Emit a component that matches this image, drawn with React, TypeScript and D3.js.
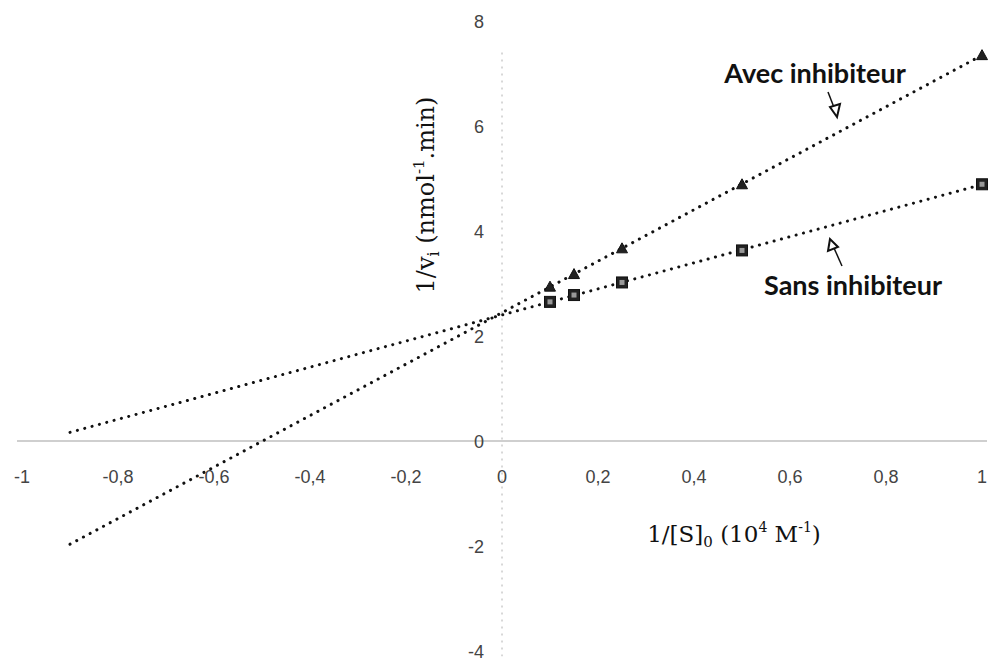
import React from "react";
import * as d3 from "d3";

const xValues = [0.1, 0.15, 0.25, 0.5, 1];
const sansValues = [2.65, 2.78, 3.02, 3.63, 4.89];
const avecValues = [2.94, 3.18, 3.67, 4.89, 7.35];
const xTicks = [-1, -0.8, -0.6, -0.4, -0.2, 0, 0.2, 0.4, 0.6, 0.8, 1];
const yTicks = [-4, -2, 0, 2, 4, 6, 8];
const trendRange = [-0.9, 1];

const W = 988;
const H = 662;

function fit(xs: number[], ys: number[]) {
  const mx = d3.mean(xs)!;
  const my = d3.mean(ys)!;
  let num = 0, den = 0;
  xs.forEach((x, i) => {
    num += (x - mx) * (ys[i] - my);
    den += (x - mx) * (x - mx);
  });
  const b = num / den;
  const a = my - b * mx;
  return (x: number) => a + b * x;
}

export default function App() {
  const x = d3.scaleLinear().domain([-1, 1]).range([22, 982]);
  const y = d3.scaleLinear().domain([-4, 8]).range([651, 21]);

  const sansFit = fit(xValues, sansValues);
  const avecFit = fit(xValues, avecValues);
  const trendPath = (f: (v: number) => number) =>
    d3
      .line<number>()
      .x((d) => x(d))
      .y((d) => y(f(d)))(trendRange)!;

  const fmt = (v: number) => (v === 0 ? "0" : String(v).replace(".", ","));
  const tickFont = "'Liberation Sans', Arial, sans-serif";
  const serif = "'DejaVu Serif', 'Liberation Serif', serif";
  const bold = "Lato, 'Liberation Sans', sans-serif";

  const tri = (cx: number, cy: number) =>
    `M${cx},${cy - 5.5}L${cx + 5.5},${cy + 4.5}L${cx - 5.5},${cy + 4.5}Z`;

  return (
    <svg
      width={W}
      height={H}
      style={{ position: "absolute", left: 0, top: 0, background: "#fff" }}
    >
      {/* x axis */}
      <line x1={x(-1) - 5} x2={x(1) + 5} y1={y(0)} y2={y(0)} stroke="#a0a0a0" strokeWidth={1.2} />
      {/* y axis */}
      <line
        x1={x(0)}
        x2={x(0)}
        y1={y(7.4)}
        y2={y(-4.1)}
        stroke="#b0b0b0"
        strokeWidth={1}
        strokeDasharray="2 5"
      />
      {xTicks.map((t) => (
        <text
          key={"xt" + t}
          x={x(t)}
          y={483}
          textAnchor="middle"
          fontFamily={tickFont}
          fontSize={18}
          fill="#444"
        >
          {fmt(t)}
        </text>
      ))}
      {yTicks.map((t) => (
        <text
          key={"yt" + t}
          x={484}
          y={y(t) + 7}
          textAnchor="end"
          fontFamily={tickFont}
          fontSize={18}
          fill="#444"
        >
          {fmt(t)}
        </text>
      ))}

      {/* trendlines */}
      <path d={trendPath(sansFit)} fill="none" stroke="#111" strokeWidth={3} strokeLinecap="round" strokeDasharray="0.1 7.5" />
      <path d={trendPath(avecFit)} fill="none" stroke="#111" strokeWidth={3} strokeLinecap="round" strokeDasharray="0.1 7.5" />

      {/* markers */}
      {xValues.map((v, i) => (
        <g key={"s" + i}>
          <rect x={x(v) - 5.5} y={y(sansValues[i]) - 5.5} width={11} height={11} fill="#222" stroke="#111" strokeWidth={1} />
          <rect x={x(v) - 2.5} y={y(sansValues[i]) - 2.5} width={5} height={5} fill="#999" />
        </g>
      ))}
      {xValues.map((v, i) => (
        <path key={"a" + i} d={tri(x(v), y(avecValues[i]))} fill="#222" stroke="#111" strokeWidth={1} />
      ))}

      {/* annotations */}
      <text x={815} y={83} textAnchor="middle" fontFamily={bold} fontWeight="bold" fontSize={27} fill="#111">
        Avec inhibiteur
      </text>
      <line x1={828} y1={92} x2={835} y2={110} stroke="#111" strokeWidth={1.5} />
      <path d="M837,117 L830,107 L840,104 Z" fill="#fff" stroke="#111" strokeWidth={2} />
      <text x={853} y={295} textAnchor="middle" fontFamily={bold} fontWeight="bold" fontSize={27} fill="#111">
        Sans inhibiteur
      </text>
      <line x1={842} y1={266} x2={834} y2={248} stroke="#111" strokeWidth={1.5} />
      <path d="M830,239 L828,251 L838,247 Z" fill="#fff" stroke="#111" strokeWidth={2} />

      {/* axis titles */}
      <text
        transform={`translate(434,195) rotate(-90)`}
        textAnchor="middle"
        fontFamily={serif}
        fontSize={24}
        fill="#111"
      >
        1/v<tspan fontSize={16} dy={5}>i</tspan>
        <tspan dy={-5}> (nmol</tspan>
        <tspan fontSize={15} dy={-10}>-1</tspan>
        <tspan dy={10}>.min)</tspan>
      </text>
      <text x={734} y={542} textAnchor="middle" fontFamily={serif} fontSize={23} fill="#111">
        1/[S]<tspan fontSize={15} dy={5}>0</tspan>
        <tspan dy={-5}> (10</tspan>
        <tspan fontSize={14} dy={-10}>4</tspan>
        <tspan dy={10}> M</tspan>
        <tspan fontSize={14} dy={-10}>-1</tspan>
        <tspan dy={10}>)</tspan>
      </text>
    </svg>
  );
}
